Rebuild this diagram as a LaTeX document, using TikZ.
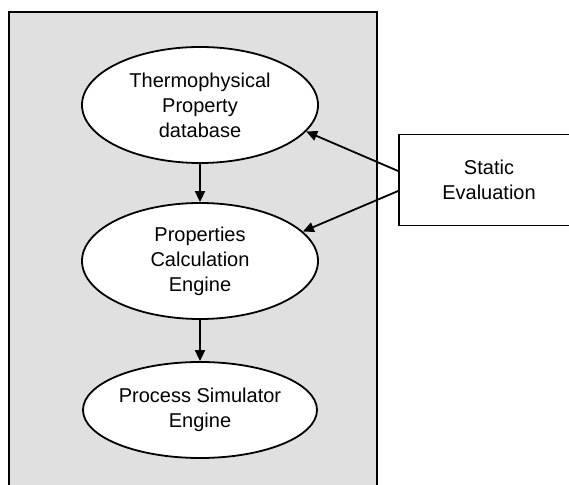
\documentclass[tikz,border=0pt]{standalone}
\usepackage{fontspec}
\setmainfont{Liberation Sans}
\usepackage{tikz}
\usetikzlibrary{arrows.meta,positioning,shapes.geometric}
\definecolor{panelgray}{RGB}{224,224,224}
\tikzset{
  tool-panel/.style={draw=black, fill=panelgray, line width=1.8pt},
  tool-module/.style={ellipse, draw=black, fill=white, line width=1.8pt, align=center, inner sep=0pt,
    font=\fontsize{20}{25}\selectfont},
  tool-eval/.style={draw=black, fill=white, line width=1.8pt, align=center, inner sep=0pt,
    minimum width=180pt, minimum height=91pt, font=\fontsize{20}{25}\selectfont},
  tool-flow/.style={-{Triangle[length=11pt,width=10pt]}, line width=1.8pt}
}

\begin{document}
\begin{tikzpicture}[x=1pt, y=1pt]
  \useasboundingbox (0,0) rectangle (569,484);

  % Tool panel (open at the bottom of the page)
  \draw[tool-panel] (9,-5) rectangle (377,472);

  % Modules inside the panel
  \node[tool-module, minimum width=236pt, minimum height=116pt] (db) at (200,379) {Thermophysical\\Property\\database};
  \node[tool-module, minimum width=236pt, minimum height=116pt] (calc) at (200,223) {Properties\\Calculation\\Engine};
  \node[tool-module, minimum width=234pt, minimum height=96pt] (sim) at (200,74) {Process Simulator\\Engine};
  \draw[tool-flow] (db.south) -- (calc.north);
  \draw[tool-flow] (calc.south) -- (sim.north);

  % Static evaluation (cut at the right edge)
  \node[tool-eval] (stat) at (489,304) {Static\\Evaluation};
  \draw[tool-flow] ([yshift=9pt]stat.west) -- (db.-14);
  \draw[tool-flow] ([yshift=-11pt]stat.west) -- (calc.16);
\end{tikzpicture}
\end{document}
